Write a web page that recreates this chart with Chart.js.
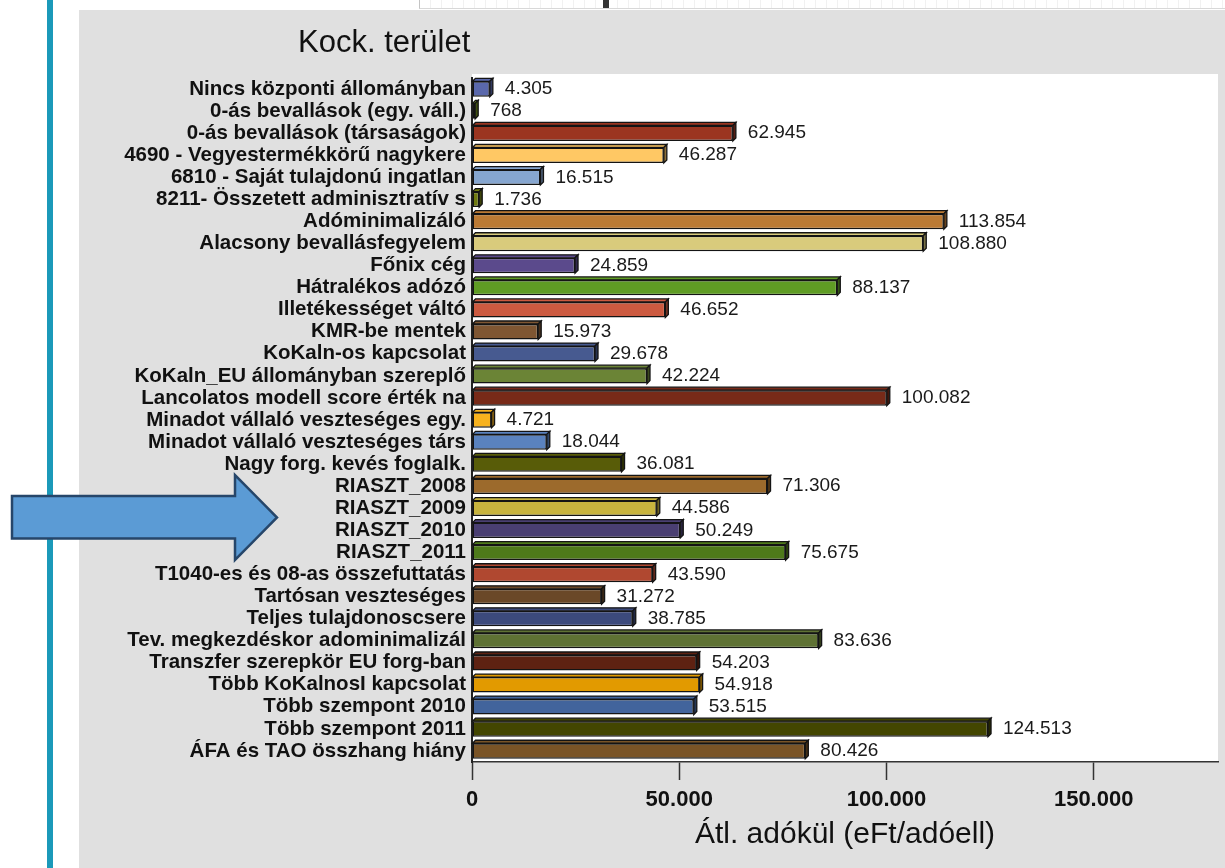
<!DOCTYPE html>
<html lang="hu">
<head>
  <meta charset="UTF-8">
  <title>Kock. terület</title>
  <script src="https://cdn.jsdelivr.net/npm/chart.js"></script>
  <style>
    html, body { margin: 0; padding: 0; background: #fff; }
    body { width: 1225px; height: 868px; position: relative; overflow: hidden; font-family: "Liberation Sans", Arial, sans-serif; }
    #sideLine { position: absolute; left: 47px; top: 0; width: 6px; height: 868px; background: #1b99b9; }
    #topStrip { position: absolute; left: 419px; top: 0; width: 806px; height: 8px; border-left: 1px solid #c4c4c4; border-bottom: 1px solid #d8d8d8;
      background: repeating-linear-gradient(90deg, #fff 0 10px, #f1f1f1 10px 11px); }
    #topMark { position: absolute; left: 603px; top: 0; width: 6px; height: 8px; background: #333; }
    #panel { position: absolute; left: 79px; top: 10px; width: 1146px; height: 858px; background: #e0e0e0; }
    #arrow { position: absolute; left: 0; top: 0; pointer-events: none; }
  </style>
</head>
<body>
  <div id="sideLine"></div>
  <div id="topStrip"></div>
  <div id="topMark"></div>
  <div id="panel">
    <canvas id="chart" width="1146" height="858"></canvas>
  </div>
  <svg id="arrow" width="1225" height="868">
    <polygon points="12,496 235,496 235,475 277,517.5 235,560 235,538.5 12,538.5"
             fill="#5b9bd5" stroke="#26466a" stroke-width="2.5" stroke-linejoin="miter"/>
  </svg>

  <script>
    // kategóriák és értékek (eFt/adóell)
    const categories = [
      'Nincs központi állományban',
      '0-ás bevallások (egy. váll.)',
      '0-ás bevallások (társaságok)',
      '4690 - Vegyestermékkörű nagykere',
      '6810 - Saját tulajdonú ingatlan',
      '8211- Összetett adminisztratív s',
      'Adóminimalizáló',
      'Alacsony bevallásfegyelem',
      'Főnix cég',
      'Hátralékos adózó',
      'Illetékességet váltó',
      'KMR-be mentek',
      'KoKaln-os kapcsolat',
      'KoKaln_EU állományban szereplő',
      'Lancolatos modell score érték na',
      'Minadot vállaló veszteséges egy.',
      'Minadot vállaló veszteséges társ',
      'Nagy forg. kevés foglalk.',
      'RIASZT_2008',
      'RIASZT_2009',
      'RIASZT_2010',
      'RIASZT_2011',
      'T1040-es és 08-as összefuttatás',
      'Tartósan veszteséges',
      'Teljes tulajdonoscsere',
      'Tev. megkezdéskor adominimalizál',
      'Transzfer szerepkör EU forg-ban',
      'Több KoKalnosI kapcsolat',
      'Több szempont 2010',
      'Több szempont 2011',
      'ÁFA és TAO összhang hiány'
    ];
    const values = [
      4305, 768, 62945, 46287, 16515, 1736, 113854, 108880, 24859, 88137,
      46652, 15973, 29678, 42224, 100082, 4721, 18044, 36081, 71306, 44586,
      50249, 75675, 43590, 31272, 38785, 83636, 54203, 54918, 53515, 124513,
      80426
    ];
    const barColors = [
      '#5a68ac', '#71901c', '#9b3520', '#ffc864', '#86a6d0', '#6f7a10', '#bb7a34', '#d9cb7c', '#5b4a8c', '#5f9c24',
      '#cc5a40', '#7f5632', '#475a90', '#6b8436', '#782a18', '#f7b21e', '#5a82be', '#585c08', '#9c6a2c', '#c8b43e',
      '#4a3f72', '#4e7a1a', '#b04830', '#6a4828', '#3c4a7c', '#5f7234', '#5e2212', '#e29a00', '#42649c', '#434600',
      '#7a5426'
    ];
    const tickValues = [0, 50000, 100000, 150000];
    const tickLabels = ['0', '50.000', '100.000', '150.000'];
    const axisMax = 180000;

    const fontFamily = '"Liberation Sans", Arial, sans-serif';

    function fmt(v) {
      return String(v).replace(/\B(?=(\d{3})+(?!\d))/g, '.');
    }
    function shade(hex, f) {
      const n = parseInt(hex.slice(1), 16);
      const r = Math.round(((n >> 16) & 255) * f);
      const g = Math.round(((n >> 8) & 255) * f);
      const b = Math.round((n & 255) * f);
      return `rgb(${r},${g},${b})`;
    }

    // fehér rajzterület
    const plotBg = {
      id: 'plotBg',
      beforeDraw(chart) {
        const { ctx, chartArea: a } = chart;
        ctx.save();
        ctx.fillStyle = '#fff';
        ctx.fillRect(a.left, a.top - 4, a.right - a.left, a.bottom - a.top + 4);
        ctx.restore();
      }
    };

    // cím
    const chartTitle = {
      id: 'chartTitle',
      afterDraw(chart) {
        const ctx = chart.ctx;
        ctx.save();
        ctx.fillStyle = '#111';
        ctx.font = '31px ' + fontFamily;
        ctx.textBaseline = 'alphabetic';
        ctx.fillText('Kock. terület', 219, 42);
        ctx.restore();
      }
    };

    // 3D oszlopok + értékfeliratok
    const bar3d = {
      id: 'bar3d',
      afterDatasetsDraw(chart) {
        const ctx = chart.ctx;
        const meta = chart.getDatasetMeta(0);
        const d = 3;
        ctx.save();
        ctx.lineWidth = 1.3;
        ctx.strokeStyle = '#141414';
        meta.data.forEach((bar, i) => {
          const { x, y, base, height } = bar.getProps(['x', 'y', 'base', 'height'], true);
          const top = y - height / 2, bottom = y + height / 2;
          ctx.beginPath();
          ctx.moveTo(base, top); ctx.lineTo(base + d, top - d); ctx.lineTo(x + d, top - d); ctx.lineTo(x, top);
          ctx.closePath();
          ctx.fillStyle = barColors[i];
          ctx.fill(); ctx.stroke();
          ctx.beginPath();
          ctx.moveTo(x, top); ctx.lineTo(x + d, top - d); ctx.lineTo(x + d, bottom - d); ctx.lineTo(x, bottom);
          ctx.closePath();
          ctx.fillStyle = shade(barColors[i], 0.55);
          ctx.fill(); ctx.stroke();

          ctx.fillStyle = '#1a1a1a';
          ctx.font = '19px ' + fontFamily;
          ctx.textBaseline = 'middle';
          ctx.fillText(fmt(values[i]), x + d + 12, y);
        });
        ctx.restore();
      }
    };

    new Chart(document.getElementById('chart'), {
      type: 'bar',
      data: {
        labels: categories,
        datasets: [{
          data: values,
          backgroundColor: barColors,
          borderColor: '#141414',
          borderWidth: 1.5,
          borderSkipped: false,
          barPercentage: 0.7,
          categoryPercentage: 1
        }]
      },
      options: {
        indexAxis: 'y',
        responsive: false,
        animation: false,
        layout: { padding: { top: 68, right: 7, bottom: 0, left: 0 } },
        plugins: {
          legend: { display: false },
          tooltip: { enabled: false }
        },
        scales: {
          x: {
            min: 0,
            max: axisMax,
            afterBuildTicks: s => { s.ticks = tickValues.map(v => ({ value: v })); },
            afterFit: s => { s.height = 106; },
            ticks: {
              callback: (v, i) => tickLabels[i],
              color: '#111',
              font: { family: fontFamily, size: 22, weight: 'bold' },
              padding: 7,
              maxRotation: 0,
              autoSkip: false
            },
            grid: {
              display: true,
              drawOnChartArea: false,
              drawTicks: true,
              tickLength: 18,
              tickColor: '#333',
              tickWidth: 1.5,
              color: '#333'
            },
            border: { display: true, color: '#333', width: 1.5 },
            title: {
              display: true,
              text: 'Átl. adókül (eFt/adóell)',
              color: '#111',
              font: { family: fontFamily, size: 30 },
              padding: { top: 0, bottom: 15 }
            }
          },
          y: {
            afterFit: s => { s.width = 393; },
            ticks: {
              autoSkip: false,
              padding: 6,
              color: '#111',
              font: { family: fontFamily, size: 20.5, weight: 'bold', lineHeight: 1 }
            },
            grid: { display: false, drawTicks: false },
            border: { display: true, color: '#222', width: 2 }
          }
        }
      },
      plugins: [plotBg, bar3d, chartTitle]
    });
  </script>
</body>
</html>
